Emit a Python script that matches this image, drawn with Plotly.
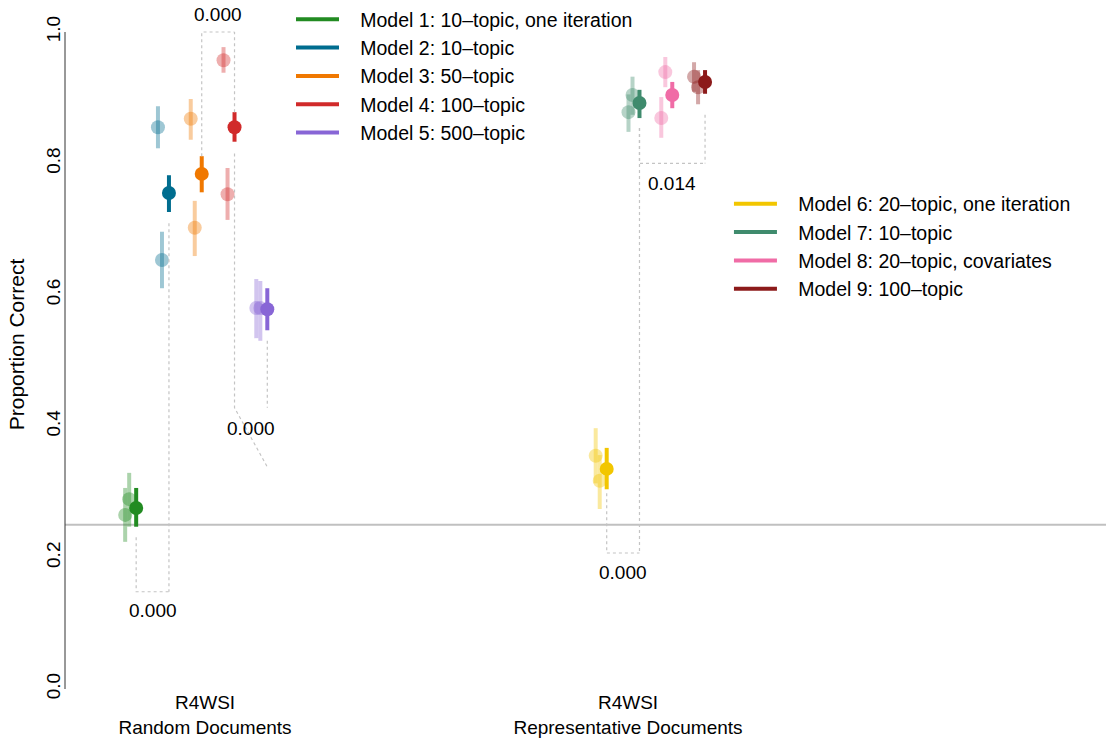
import plotly.graph_objects as go

# ---------------- data ----------------
groups = ["R4WSI<br>Random Documents", "R4WSI<br>Representative Documents"]
model_names = [
    "Model 1: 10\u2013topic, one iteration",
    "Model 2: 10\u2013topic",
    "Model 3: 50\u2013topic",
    "Model 4: 100\u2013topic",
    "Model 5: 500\u2013topic",
    "Model 6: 20\u2013topic, one iteration",
    "Model 7: 10\u2013topic",
    "Model 8: 20\u2013topic, covariates",
    "Model 9: 100\u2013topic",
]
model_group = [0, 0, 0, 0, 0, 1, 1, 1, 1]
colors = ["#228B22", "#006D8F", "#F07800", "#D12A2A", "#8866D6",
          "#F2C600", "#3F8B6D", "#F06CA6", "#8C1A1A"]

# pooled estimate (solid points)
full_est = [0.2755, 0.755, 0.784, 0.855, 0.578, 0.335, 0.892, 0.904, 0.924]
full_lo = [0.247, 0.726, 0.756, 0.833, 0.546, 0.304, 0.869, 0.884, 0.906]
full_hi = [0.306, 0.782, 0.811, 0.878, 0.610, 0.367, 0.912, 0.924, 0.942]

# individual replicates (faded points)
rep_a_est = [0.265, 0.855, 0.868, 0.957, 0.580, 0.355, 0.878, 0.869, 0.932]
rep_a_lo = [0.224, 0.823, 0.836, 0.938, 0.534, 0.313, 0.848, 0.839, 0.909]
rep_a_hi = [0.306, 0.887, 0.898, 0.977, 0.624, 0.397, 0.905, 0.901, 0.954]

rep_b_est = [0.289, 0.653, 0.702, 0.753, 0.580, 0.317, 0.904, 0.939, 0.916]
rep_b_lo = [0.247, 0.610, 0.659, 0.714, 0.530, 0.274, 0.874, 0.916, 0.890]
rep_b_hi = [0.329, 0.696, 0.743, 0.793, 0.621, 0.356, 0.932, 0.962, 0.942]

chance = 0.25

# pairwise comparisons (p-values)
bracket_a = [0, 2, 3, 5, 6]
bracket_b = [1, 3, 4, 6, 8]
bracket_start_a = [0.231, 0.811, 0.815, 0.298, 0.854]
bracket_start_b = [0.709, 0.878, 0.530, 0.854, 0.874]
bracket_end_a = [0.148, 1.000, 0.428, 0.207, 0.800]
bracket_end_b = [0.148, 1.000, 0.338, 0.207, 0.800]
bracket_vend_b = [0.148, 1.000, 0.428, 0.207, 0.800]
bracket_p = ["0.000", "0.000", "0.000", "0.000", "0.014"]
bracket_label_y = [0.119, 1.027, 0.397, 0.177, 0.769]

y_ticks = [0.0, 0.2, 0.4, 0.6, 0.8, 1.0]
y_ticktext = ["0.0", "0.2", "0.4", "0.6", "0.8", "1.0"]

# ---------------- layout constants ----------------
group_x = [1, 2]
step = 0.0775
model_slot = [-2.1, -1.1, -0.1, 0.9, 1.9, -0.65, 0.35, 1.35, 2.35]
rep_shift = [-0.026, -0.0165]
FONT = "Liberation Sans, Arial, sans-serif"
Y_TOP = 1 + 32 / 657  # plot region extends a little above 1.0
PAD = "\u00a0\u00a0\u00a0"


def rgba(hexc, a):
    h = hexc.lstrip("#")
    r, g, b = int(h[0:2], 16), int(h[2:4], 16), int(h[4:6], 16)
    return f"rgba({r},{g},{b},{a})"


xpos = [group_x[model_group[i]] + model_slot[i] * step for i in range(9)]

fig = go.Figure()

# faded replicate points
for i in range(9):
    for k, (est, lo, hi) in enumerate([(rep_a_est, rep_a_lo, rep_a_hi),
                                       (rep_b_est, rep_b_lo, rep_b_hi)]):
        c = rgba(colors[i], 0.38)
        fig.add_trace(go.Scatter(
            x=[xpos[i] + rep_shift[k]], y=[est[i]], mode="markers",
            marker=dict(size=14, color=c, line=dict(width=0)),
            error_y=dict(type="data", symmetric=False,
                         array=[hi[i] - est[i]], arrayminus=[est[i] - lo[i]],
                         color=c, thickness=4, width=0),
            showlegend=False, hoverinfo="skip"))

# solid pooled points
for i in range(9):
    fig.add_trace(go.Scatter(
        x=[xpos[i]], y=[full_est[i]], mode="markers",
        marker=dict(size=14, color=colors[i], line=dict(width=0)),
        error_y=dict(type="data", symmetric=False,
                     array=[full_hi[i] - full_est[i]],
                     arrayminus=[full_est[i] - full_lo[i]],
                     color=colors[i], thickness=4, width=0),
        showlegend=False, hoverinfo="skip"))

# comparison brackets
bx, by = [], []
for j in range(len(bracket_a)):
    xa, xb = xpos[bracket_a[j]], xpos[bracket_b[j]]
    bx += [xa, xa, xb, None, xb, xb, None]
    by += [bracket_start_a[j], bracket_end_a[j], bracket_end_b[j], None,
           bracket_start_b[j], bracket_vend_b[j], None]
fig.add_trace(go.Scatter(x=bx, y=by, mode="lines",
                         line=dict(color="#C4C4C4", width=1.2, dash="dot"),
                         cliponaxis=False, showlegend=False, hoverinfo="skip"))

for j in range(len(bracket_a)):
    xa, xb = xpos[bracket_a[j]], xpos[bracket_b[j]]
    fig.add_annotation(x=(xa + xb) / 2, y=bracket_label_y[j], text=bracket_p[j],
                       showarrow=False, font=dict(size=19, color="black", family=FONT))

# legend entries
for i in range(9):
    fig.add_trace(go.Scatter(
        x=[None], y=[None], mode="lines", name=PAD + model_names[i],
        line=dict(color=colors[i], width=4),
        legend="legend" if model_group[i] == 0 else "legend2"))

# chance line and y-axis line
fig.add_shape(type="line", xref="paper", x0=0, x1=1, yref="y", y0=chance, y1=chance,
              line=dict(color="#C0C0C0", width=2), layer="below")
fig.add_shape(type="line", xref="paper", x0=0, x1=0, yref="y", y0=0, y1=1,
              line=dict(color="#333333", width=1), layer="above")

fig.update_layout(
    width=1106, height=742,
    margin=dict(l=65, r=0, t=0, b=53),
    paper_bgcolor="white", plot_bgcolor="white",
    font=dict(family=FONT, size=19, color="black"),
    xaxis=dict(range=[0.669, 3.130], tickvals=group_x, ticktext=groups,
               showline=False, showgrid=False, zeroline=False, ticks="",
               automargin=False, tickfont=dict(size=19)),
    yaxis=dict(range=[0, Y_TOP], tickvals=y_ticks, ticktext=y_ticktext,
               tickangle=-90, showline=False,
               showgrid=False, zeroline=False, ticks="", automargin=False,
               tickfont=dict(size=19),
               title=dict(text="Proportion Correct", font=dict(size=21), standoff=12)),
    legend=dict(x=0.2171, y=1.0, xanchor="left", yanchor="top",
                bgcolor="rgba(0,0,0,0)", font=dict(size=19.5), itemwidth=43,
                tracegroupgap=0),
    legend2=dict(x=0.6378, y=0.7322, xanchor="left", yanchor="top",
                 bgcolor="rgba(0,0,0,0)", font=dict(size=19.5), itemwidth=43,
                 tracegroupgap=0),
)

fig.write_html("out.html", config={"displayModeBar": False},
               post_script="document.body.style.margin='0px';")
